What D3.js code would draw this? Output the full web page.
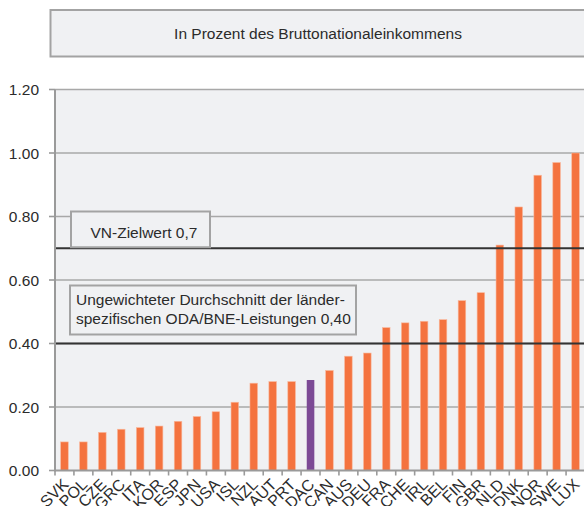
<!DOCTYPE html>
<html>
<head>
<meta charset="utf-8">
<script src="https://cdn.jsdelivr.net/npm/d3@7"></script>
<style>
  body { margin: 0; background: #fff; }
  text { font-family: "Liberation Sans", Arial, sans-serif; fill: #2b2b2b; }
</style>
</head>
<body>
<svg width="584" height="506"></svg>
<script>
var countries = ['SVK', 'POL', 'CZE', 'GRC', 'ITA', 'KOR', 'ESP', 'JPN', 'USA', 'ISL', 'NZL', 'AUT', 'PRT', 'DAC',
                 'CAN', 'AUS', 'DEU', 'FRA', 'CHE', 'IRL', 'BEL', 'FIN', 'GBR', 'NLD', 'DNK', 'NOR', 'SWE', 'LUX'];
var odaShare = [0.09, 0.09, 0.12, 0.13, 0.135, 0.14, 0.155, 0.17, 0.185, 0.215, 0.275, 0.28, 0.28, 0.285,
                0.315, 0.36, 0.37, 0.45, 0.465, 0.47, 0.475, 0.535, 0.56, 0.71, 0.83, 0.93, 0.97, 1.00];
var yTicks = [0, 0.2, 0.4, 0.6, 0.8, 1.0, 1.2];
var unTarget = 0.7;
var average = 0.40;
var title = 'In Prozent des Bruttonationaleinkommens';
var unLabel = 'VN-Zielwert 0,7';
var avgLabel = ['Ungewichteter Durchschnitt der länder-', 'spezifischen ODA/BNE-Leistungen 0,40'];

var orange = '#f4733f', purple = '#7c4a95', panel = '#f0f1f3';
var plotL = 55, plotR = 585, plotT = 89.5, plotB = 470.5;

var svg = d3.select('svg');

var x = d3.scaleBand().domain(countries).range([plotL, plotR]).paddingInner(0.6).paddingOuter(0.3);
var y = d3.scaleLinear().domain([0, 1.2]).range([plotB, plotT]);

// title box
svg.append('rect')
   .attr('x', 50.5).attr('y', 10).attr('width', 560).attr('height', 46.5)
   .attr('fill', panel).attr('stroke', '#a3a3a3').attr('stroke-width', 2);
svg.append('text')
   .attr('x', 318).attr('y', 38.5)
   .attr('text-anchor', 'middle')
   .style('font-size', '15.5px')
   .text(title);

// plot background
svg.append('rect')
   .attr('x', plotL).attr('y', plotT).attr('width', 584 - plotL).attr('height', plotB - plotT)
   .attr('fill', panel);

// gridlines
svg.selectAll('line.grid')
   .data(yTicks.filter(function(d) { return d > 0; }))
   .enter()
   .append('line')
   .attr('class', 'grid')
   .attr('x1', plotL).attr('x2', 584)
   .attr('y1', function(d) { return y(d); })
   .attr('y2', function(d) { return y(d); })
   .attr('stroke', '#a8a8a8').attr('stroke-width', 1.6);

// bars
svg.selectAll('rect.bar')
   .data(odaShare)
   .enter()
   .append('rect')
   .attr('class', 'bar')
   .attr('x', function(d, i) { return x(countries[i]); })
   .attr('y', function(d) { return y(d); })
   .attr('width', x.bandwidth())
   .attr('height', function(d) { return y(0) - y(d); })
   .attr('fill', function(d, i) { return countries[i] == 'DAC' ? purple : orange; })
   .attr('stroke', function(d, i) { return countries[i] == 'DAC' ? 'none' : '#f9b89c'; })
   .attr('stroke-width', 0.6);

// reference lines
svg.selectAll('line.ref')
   .data([unTarget, average])
   .enter()
   .append('line')
   .attr('class', 'ref')
   .attr('x1', plotL).attr('x2', 584)
   .attr('y1', function(d) { return y(d); })
   .attr('y2', function(d) { return y(d); })
   .attr('stroke', '#333').attr('stroke-width', 2);

// annotation: VN target
svg.append('rect')
   .attr('x', 71).attr('y', 211.5).attr('width', 139).attr('height', y(unTarget) - 1 - 211.5)
   .attr('fill', panel).attr('stroke', '#a3a3a3').attr('stroke-width', 2);
svg.append('text')
   .attr('x', 90.5).attr('y', 237.5)
   .style('font-size', '15.5px')
   .text(unLabel);

// annotation: average
svg.append('rect')
   .attr('x', 70).attr('y', 285.5).attr('width', 286).attr('height', 49)
   .attr('fill', panel).attr('stroke', '#a3a3a3').attr('stroke-width', 2);
svg.append('text')
   .attr('x', 76).attr('y', 304.5)
   .style('font-size', '15.5px')
   .selectAll('tspan')
   .data(avgLabel)
   .enter()
   .append('tspan')
   .attr('x', 76)
   .attr('dy', function(d, i) { return i ? 19 : 0; })
   .text(function(d) { return d; });

// y axis
svg.append('line')
   .attr('x1', plotL).attr('x2', plotL).attr('y1', plotT).attr('y2', plotB + 1)
   .attr('stroke', '#9a9a9a').attr('stroke-width', 2);
svg.selectAll('line.ytick')
   .data(yTicks)
   .enter()
   .append('line')
   .attr('x1', 49).attr('x2', plotL)
   .attr('y1', function(d) { return y(d); })
   .attr('y2', function(d) { return y(d); })
   .attr('stroke', '#9a9a9a').attr('stroke-width', 1.6);
svg.selectAll('text.ylab')
   .data(yTicks)
   .enter()
   .append('text')
   .attr('x', 39).attr('y', function(d) { return y(d) + 5.5; })
   .attr('text-anchor', 'end')
   .style('font-size', '15.5px')
   .text(function(d) { return d3.format('.2f')(d); });

// x axis
svg.append('line')
   .attr('x1', plotL).attr('x2', 584).attr('y1', plotB).attr('y2', plotB)
   .attr('stroke', '#9a9a9a').attr('stroke-width', 2.2);
svg.selectAll('line.xtick')
   .data(d3.range(countries.length + 1))
   .enter()
   .append('line')
   .attr('x1', function(i) { return plotL + i * x.step(); })
   .attr('x2', function(i) { return plotL + i * x.step(); })
   .attr('y1', plotB).attr('y2', plotB + 5)
   .attr('stroke', '#9a9a9a').attr('stroke-width', 1.6);
svg.selectAll('text.xlab')
   .data(countries)
   .enter()
   .append('text')
   .attr('text-anchor', 'end')
   .attr('transform', function(d) {
     return 'translate(' + (x(d) + x.bandwidth() / 2 + 5) + ',' + (plotB + 15) + ') rotate(-45)';
   })
   .style('font-size', '16px')
   .text(function(d) { return d; });
</script>
</body>
</html>
